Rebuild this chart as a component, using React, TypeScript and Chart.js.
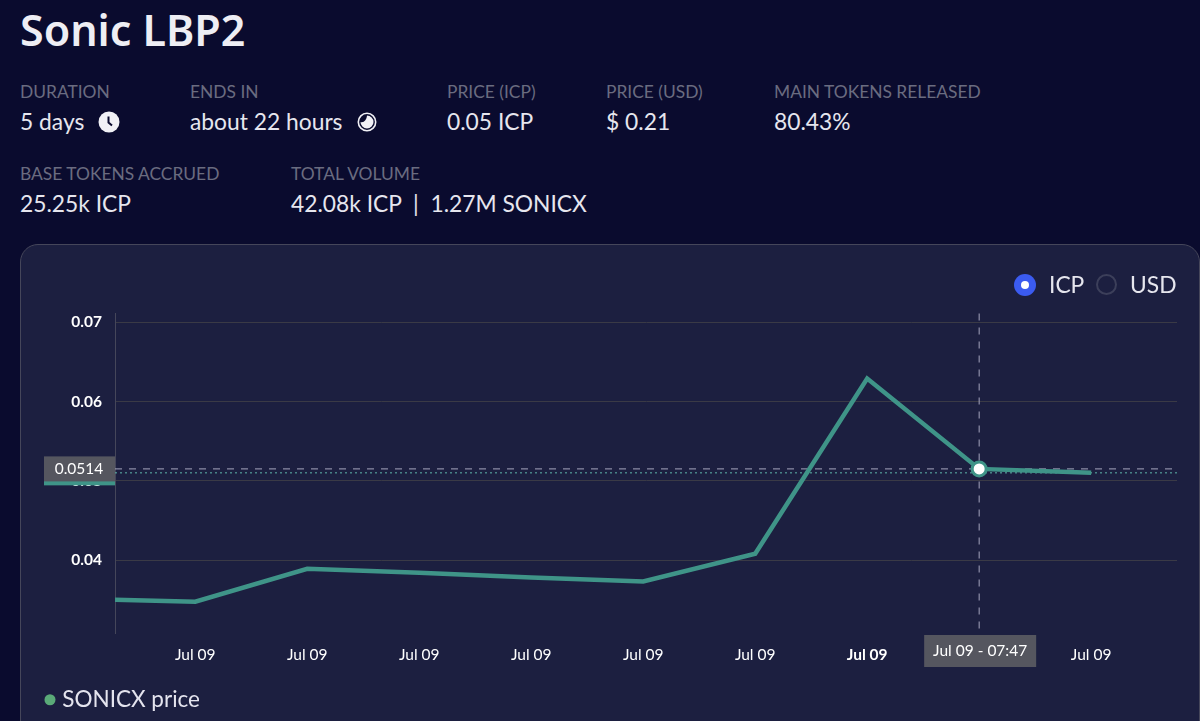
import React, { useEffect, useRef } from "react";
import { Chart, registerables } from "chart.js";

Chart.register(...registerables);

const FONT = "Lato, 'Noto Sans', sans-serif";

const pointMinutes = [4, 47, 107, 167, 227, 287, 347, 407, 467, 527];
const priceValues = [0.035, 0.03475, 0.0389, 0.0384, 0.0378, 0.0373, 0.0408, 0.0629, 0.0515, 0.051];
const tickMinutes = [47, 107, 167, 227, 287, 347, 407, 467, 527];
const tickLabel = "Jul 09";
const boldTickMinute = 407;
const yTicks = [0.04, 0.05, 0.06, 0.07];
const crosshairMinute = 467;
const crosshairPrice = 0.0515;
const crosshairPriceLabel = "0.0514";
const lastPrice = 0.051;
const crosshairLabel = "Jul 09 - 07:47";
const seriesName = "SONICX price";

const statLabels = ["DURATION", "ENDS IN", "PRICE (ICP)", "PRICE (USD)", "MAIN TOKENS RELEASED", "BASE TOKENS ACCRUED", "TOTAL VOLUME"];
const statValues = ["5 days", "about 22 hours", "0.05 ICP", "$ 0.21", "80.43%", "25.25k ICP", "42.08k ICP  |  1.27M SONICX"];
const statX = [20, 190, 447, 606, 774, 20, 291];
const statY = [92, 92, 92, 92, 92, 174, 174];

const overlayPlugin = {
  id: "overlay",
  beforeDatasetsDraw(chart: any) {
    const { ctx, chartArea, scales } = chart;
    const x = scales.x.getPixelForValue(crosshairMinute);
    const y = scales.y.getPixelForValue(crosshairPrice);
    const yLast = scales.y.getPixelForValue(lastPrice);
    ctx.save();
    ctx.fillStyle = "#3f9488";
    ctx.fillRect(44, yLast - 12.5, chartArea.left - 44, 25);
    ctx.fillStyle = "#55565f";
    ctx.fillRect(44, y - 12.5, chartArea.left - 44, 25);
    ctx.fillStyle = "#ffffff";
    ctx.font = `15.5px ${FONT}`;
    ctx.textAlign = "center";
    ctx.textBaseline = "middle";
    ctx.fillText(crosshairPriceLabel, 79, y + 0.5);

    ctx.lineWidth = 1;
    ctx.strokeStyle = "#5fb8ac";
    ctx.setLineDash([2, 3]);
    ctx.beginPath();
    ctx.moveTo(chartArea.left, yLast);
    ctx.lineTo(chartArea.right, yLast);
    ctx.stroke();

    ctx.strokeStyle = "#a5a5bd";
    ctx.setLineDash([7, 7]);
    ctx.beginPath();
    ctx.moveTo(chartArea.left, y);
    ctx.lineTo(chartArea.right, y);
    ctx.stroke();
    ctx.beginPath();
    ctx.moveTo(x, chartArea.top);
    ctx.lineTo(x, chartArea.bottom + 2);
    ctx.stroke();
    ctx.setLineDash([]);

    ctx.fillStyle = "#55565f";
    ctx.fillRect(x - 55, chartArea.bottom + 2, 112, 32);
    ctx.fillStyle = "#ffffff";
    ctx.fillText(crosshairLabel, x + 1, chartArea.bottom + 18);
    ctx.restore();
  },
};

function Clock() {
  return (
    <svg width="22" height="22" viewBox="0 0 22 22" style={{ position: "absolute", left: 98, top: 111 }}>
      <circle cx="11" cy="11" r="10.5" fill="#f1f1f6" />
      <path d="M10.5 5.5V11.5L14 14.5" stroke="#0a0b2e" strokeWidth="2" fill="none" />
    </svg>
  );
}

function Countdown() {
  return (
    <svg width="20" height="20" viewBox="0 0 20 20" style={{ position: "absolute", left: 357, top: 112 }}>
      <circle cx="10" cy="10" r="8.7" fill="none" stroke="#f1f1f6" strokeWidth="1.6" />
      <path d="M10 3.5A6.5 6.5 0 1 1 3.5 10C7 11 9.5 8 10 3.5Z" fill="#f1f1f6" />
    </svg>
  );
}

export default function App() {
  const ref = useRef<HTMLCanvasElement>(null);

  useEffect(() => {
    document.body.style.margin = "0";
    const chart = new Chart(ref.current as HTMLCanvasElement, {
      type: "line",
      data: {
        datasets: [
          {
            label: seriesName,
            data: pointMinutes.map((m, i) => ({ x: m, y: priceValues[i] })),
            borderColor: "#3f9488",
            backgroundColor: "#5aaa78",
            borderWidth: 4.5,
            tension: 0,
            pointRadius: (c: any) => (c.raw && c.raw.x === crosshairMinute ? 7 : 0),
            pointBackgroundColor: "#ffffff",
            pointBorderColor: "#3f9488",
            pointBorderWidth: 3,
          },
        ],
      },
      options: {
        responsive: false,
        animation: false,
        devicePixelRatio: 1,
        layout: { padding: { left: 39, right: 23, top: 313.5, bottom: 0 } },
        plugins: {
          tooltip: { enabled: false },
          legend: {
            position: "bottom",
            align: "start",
            onClick: () => {},
            labels: {
              usePointStyle: true,
              pointStyle: "circle",
              boxWidth: 2,
              boxHeight: 7.8,
              color: "#e4e4ee",
              padding: 10,
              font: { family: FONT, size: 22.5 },
              generateLabels: () => [
                {
                  text: seriesName,
                  fillStyle: "#5aaa78",
                  strokeStyle: "#5aaa78",
                  lineWidth: 0,
                  pointStyle: "circle",
                  fontColor: "#e4e4ee",
                  datasetIndex: 0,
                },
              ],
            },
          },
        },
        scales: {
          x: {
            type: "linear",
            min: 4,
            max: 573,
            afterBuildTicks: (s: any) => {
              s.ticks = tickMinutes.map((value) => ({ value }));
            },
            afterFit: (s: any) => {
              s.height = 45.5;
            },
            grid: { display: false },
            border: { display: false },
            ticks: {
              autoSkip: false,
              maxRotation: 0,
              padding: 4.5,
              color: "#ffffff",
              font: (c: any) => ({
                family: FONT,
                size: 15.5,
                weight: c.tick && c.tick.value === boldTickMinute ? "bold" : "normal",
              }),
              callback: () => tickLabel,
            },
          },
          y: {
            type: "linear",
            min: 0.0308,
            max: 0.0711,
            afterBuildTicks: (s: any) => {
              s.ticks = yTicks.map((value) => ({ value }));
            },
            afterFit: (s: any) => {
              s.width = 76;
            },
            grid: { color: "#3a3a46", lineWidth: 1, drawTicks: false },
            border: { color: "#45465a", width: 1 },
            ticks: {
              padding: 13,
              color: "#ffffff",
              font: { family: FONT, size: 15.5, weight: "bold" },
              callback: (v: any) => Number(v).toFixed(2),
            },
          },
        },
      },
      plugins: [overlayPlugin],
    } as any);
    return () => chart.destroy();
  }, []);

  const text = (s: string, x: number, cy: number, size: number, color: string, weight = 400, family = FONT) => (
    <div
      key={s + x + cy}
      style={{
        position: "absolute",
        left: x,
        top: cy - 30,
        height: 60,
        lineHeight: "60px",
        fontSize: size,
        fontWeight: weight,
        color,
        whiteSpace: "pre",
        fontFamily: family,
      }}
    >
      {s}
    </div>
  );

  return (
    <div style={{ position: "fixed", left: 0, top: 0, width: 1200, height: 721, overflow: "hidden", background: "#0a0b2e" }}>
      {text("Sonic LBP2", 20, 30, 43, "#eeeef4", 600, "'Noto Sans', sans-serif")}
      {statLabels.map((s, i) => text(s, statX[i], statY[i], 17.4, "#6a6c80"))}
      {statValues.map((s, i) => text(s, statX[i], statY[i] + 29, 22.8, "#e6e6ee"))}
      <Clock />
      <Countdown />
      <div
        style={{
          position: "absolute",
          left: 20,
          top: 244,
          width: 1178,
          height: 520,
          borderRadius: 18,
          background: "#1c1f40",
          border: "1px solid #45465a",
        }}
      />
      <canvas ref={ref} width={1200} height={721} style={{ position: "absolute", left: 0, top: 0, width: 1200, height: 721 }} />
      <div style={{ position: "absolute", left: 1014, top: 274, width: 22, height: 22, borderRadius: 11, background: "#3b5bf0" }} />
      <div style={{ position: "absolute", left: 1021, top: 281, width: 8, height: 8, borderRadius: 4, background: "#ffffff" }} />
      {text("ICP", 1049, 284, 22.8, "#e6e6ee")}
      <div style={{ position: "absolute", left: 1096, top: 274, width: 17, height: 17, borderRadius: 11, border: "2.5px solid #3c3f5a" }} />
      {text("USD", 1130, 284, 22.8, "#e6e6ee")}
    </div>
  );
}
